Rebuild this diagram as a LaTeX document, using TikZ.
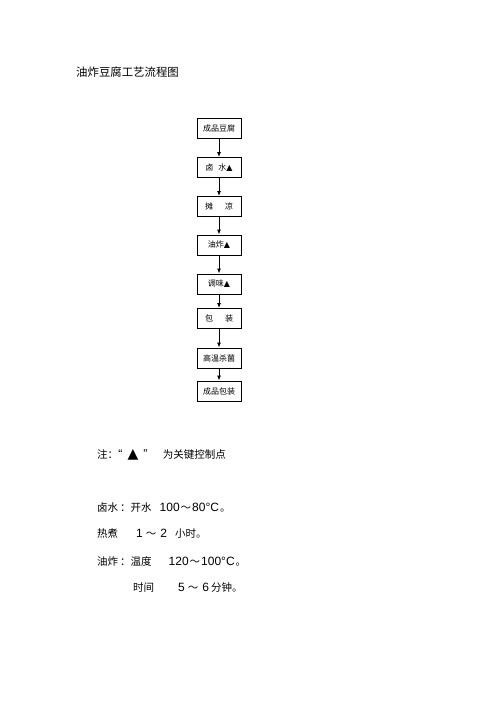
\documentclass[tikz,border=0pt]{standalone}
\usepackage{fontspec}
\setmainfont{Noto Sans CJK SC}
\newfontfamily\symfont{DejaVu Sans}
\newfontfamily\latfont{Liberation Sans}
\usetikzlibrary{arrows.meta}
\newcommand{\tri}{{\symfont\char"25B2}}
\newcommand{\bigtri}{{\symfont\fontsize{14}{14}\selectfont\char"25B2}}
\newcommand{\num}[1]{{\latfont\fontsize{12}{13}\selectfont #1}}
\tikzset{
  stepbox/.style={draw, line width=0.9pt, minimum width=44pt, minimum height=20pt, inner sep=0pt, font=\fontsize{8}{9}\selectfont},
  flow/.style={draw, line width=0.9pt, -{Latex[length=5pt,width=4pt]}},
  txt/.style={anchor=west, inner sep=0pt, font=\fontsize{10.5}{12}\selectfont},
  ttl/.style={anchor=west, inner sep=0pt, font=\fontsize{11.4}{12}\selectfont}
}
\begin{document}
\begin{tikzpicture}[x=1pt,y=-1pt]
\useasboundingbox (0,0) rectangle (500,707);
\node[ttl] (title) at (76,72) {油炸豆腐工艺流程图};
\node[stepbox] (b1) at (219,128) {成品豆腐};
\node[stepbox] (b2) at (219,167.5) {卤\hspace{5pt}水\tri};
\node[stepbox] (b3) at (219,206.5) {摊\hspace{12pt}凉};
\node[stepbox] (b4) at (219,245) {油炸\tri};
\node[stepbox] (b5) at (219,284) {调味\tri};
\node[stepbox] (b6) at (219,318.5) {包\hspace{12pt}装};
\node[stepbox] (b7) at (219,358) {高温杀菌};
\node[stepbox] (b8) at (219,391) {成品包装};
\draw[flow] (b1) -- (b2);
\draw[flow] (b2) -- (b3);
\draw[flow] (b3) -- (b4);
\draw[flow] (b4) -- (b5);
\draw[flow] (b5) -- (b6);
\draw[flow] (b6) -- (b7);
\draw[flow] (b7) -- (b8);
\node[txt] (note) at (97,455) {注：\hspace{-6pt}“\hspace{5pt}\bigtri\hspace{5pt}”\hspace{9pt}为关键控制点};
\node[txt] (l1) at (97,508) {卤水\hspace{2pt}：开水\hspace{8pt}\num{100}\hspace{1pt}～\hspace{1pt}\num{80°C}\hspace{1pt}。};
\node[txt] (l2) at (97,534) {热煮\hspace{18pt}\num{1}\hspace{3pt}～\hspace{4pt}\num{2}\hspace{8pt}小时。};
\node[txt] (l3) at (97,561) {油炸\hspace{2pt}：温度\hspace{17pt}\num{120}\hspace{1pt}～\hspace{1pt}\num{100°C}\hspace{1pt}。};
\node[txt] (l4) at (133,588) {时间\hspace{24pt}\num{5}\hspace{3pt}～\hspace{4pt}\num{6}\hspace{2pt}分钟。};
\end{tikzpicture}
\end{document}
